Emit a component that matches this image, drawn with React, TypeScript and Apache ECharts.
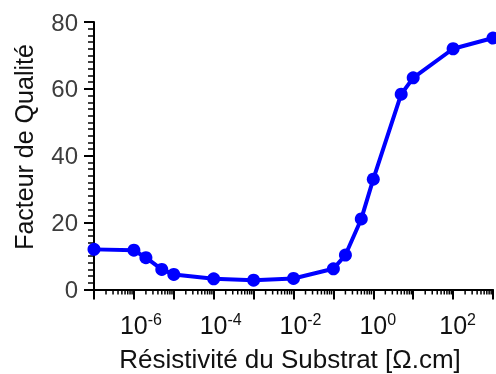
import React, { useEffect, useRef } from "react";
import * as echarts from "echarts";

const resistivity = [1e-7, 1e-6, 2e-6, 5e-6, 1e-5, 1e-4, 1e-3, 1e-2, 1e-1, 0.2, 0.5, 1, 5, 10, 100, 1000];
const qualityFactor = [12.0, 11.75, 9.5, 6.0, 4.5, 3.2, 2.8, 3.3, 6.2, 10.3, 21.1, 33.0, 58.4, 63.3, 72.0, 75.2];

const xTitle = "Résistivité du Substrat [Ω.cm]";
const yTitle = "Facteur de Qualité";
const xMinExp = -7;
const xMaxExp = 3;
const xLabelExps = [-6, -4, -2, 0, 2];
const yTicks = [0, 20, 40, 60, 80];
const minorMultipliers = [2, 3, 4, 5, 6, 7, 8, 9];
const minorDecades = [-7, -6, -5, -4, -3, -2, -1, 0, 1, 2];

const FONT = "'Liberation Sans', Arial, sans-serif";

export default function App() {
  const ref = useRef<HTMLDivElement>(null);
  useEffect(() => {
    if (!ref.current) return;
    const chart = echarts.init(ref.current, null, { renderer: "svg" });
    const minorVals: number[][] = [];
    minorDecades.forEach((d) => minorMultipliers.forEach((m) => minorVals.push([Math.log10(m * Math.pow(10, d)), 0])));
    const option: any = {
      animation: false,
      grid: { left: 94, top: 22, width: 402, height: 267.5 },
      xAxis: {
        type: "value",
        min: xMinExp,
        max: xMaxExp,
        interval: 1,
        axisLine: { show: true, onZero: false, lineStyle: { color: "#000", width: 2 } },
        axisTick: { show: true, length: 10, lineStyle: { color: "#000", width: 2 } },
        splitLine: { show: false },
        minorTick: { show: false },
        axisLabel: {
          margin: 22,
          color: "#111",
          fontFamily: FONT,
          showMinLabel: true,
          showMaxLabel: true,
          formatter: (v: number) => {
            const e = Math.round(v);
            if (xLabelExps.indexOf(e) < 0) return "";
            const sp = e < 0 ? "n" : "p";
            return `{${sp}| }{b|10}{s|${e}}`;
          },
          rich: {
            n: { width: 14, fontSize: 16 },
            p: { width: 9, fontSize: 16 },
            b: { fontSize: 25, lineHeight: 26, fontFamily: FONT, color: "#111" },
            s: { fontSize: 16, lineHeight: 16, verticalAlign: "top", fontFamily: FONT, color: "#111" },
          },
        },
      },
      yAxis: {
        type: "value",
        min: yTicks[0],
        max: yTicks[yTicks.length - 1],
        interval: 20,
        axisLine: { show: true, onZero: false, lineStyle: { color: "#000", width: 2 } },
        axisTick: { show: true, length: 10, lineStyle: { color: "#000", width: 2 } },
        minorTick: { show: true, splitNumber: 10, length: 6, lineStyle: { color: "#000", width: 1.5 } },
        splitLine: { show: false },
        minorSplitLine: { show: false },
        axisLabel: { margin: 16, fontSize: 24, color: "#3d3d3d", fontFamily: FONT },
      },
      graphic: [
        {
          type: "text",
          x: 24,
          y: 147,
          rotation: Math.PI / 2,
          style: { text: yTitle, fontSize: 25, fontFamily: FONT, fill: "#111", textAlign: "center", textVerticalAlign: "middle" },
        },
        {
          type: "text",
          x: 290,
          y: 359,
          style: { text: xTitle, fontSize: 26, fontFamily: FONT, fill: "#111", textAlign: "center", textVerticalAlign: "middle" },
        },
      ],
      series: [
        {
          type: "custom",
          silent: true,
          clip: false,
          data: minorVals,
          renderItem: (params: any, api: any) => {
            const p = api.coord([api.value(0), api.value(1)]);
            return {
              type: "line",
              shape: { x1: p[0], y1: p[1], x2: p[0], y2: p[1] + 5 },
              style: { stroke: "#000", lineWidth: 1.5 },
            };
          },
        },
        {
          type: "line",
          data: resistivity.map((x, i) => [Math.log10(x), qualityFactor[i]]),
          symbol: "circle",
          symbolSize: 13,
          lineStyle: { color: "#0000ff", width: 4 },
          itemStyle: { color: "#0000ff" },
          z: 5,
        },
      ],
    };
    chart.setOption(option);
    return () => chart.dispose();
  }, []);
  return <div ref={ref} style={{ position: "fixed", left: 0, top: 0, width: 496, height: 374 }} />;
}
